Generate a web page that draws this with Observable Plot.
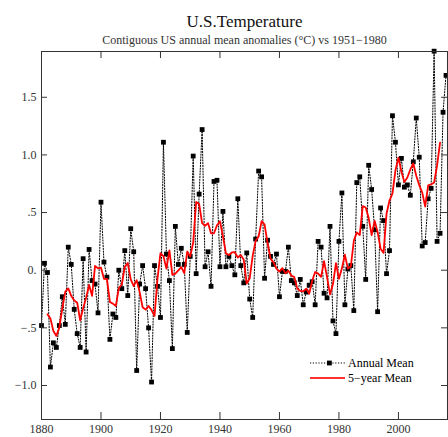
<!DOCTYPE html>
<html><head><meta charset="utf-8">
<script src="https://cdn.jsdelivr.net/npm/d3@7"></script>
<script src="https://cdn.jsdelivr.net/npm/@observablehq/plot@0.6"></script>
<style>
body{margin:0;background:#fff;}
#chart{width:448px;height:437px;}
</style></head><body><div id="chart"></div>
<script>
const title = "U.S.Temperature";
const subtitle = "Contiguous US annual mean anomalies (\u00B0C) vs 1951\u22121980";
const legendLabels = ["Annual Mean", "5\u2212year Mean"];
const years = d3.range(1880, 2017);
const annualMean = [
 -0.48, 0.06,-0.02,-0.84,-0.63,-0.67,-0.48,-0.23,-0.47, 0.20,
  0.05,-0.34,-0.55,-0.67, 0.10,-0.71, 0.18,-0.09,-0.12,-0.37,
  0.59, 0.07,-0.06,-0.60,-0.38,-0.41, 0.00,-0.16, 0.17,-0.22,
  0.36, 0.16,-0.87,-0.12, 0.04,-0.16,-0.50,-0.97, 0.04,-0.14,
 -0.41, 1.11, 0.14,-0.09,-0.68, 0.38, 0.05, 0.19, 0.05,-0.54,
  0.12, 0.99,-0.03, 0.66, 1.22, 0.03, 0.16,-0.14, 0.77, 0.78,
  0.03, 0.51, 0.03, 0.12, 0.04,-0.04, 0.62, 0.04,-0.11, 0.15,
 -0.25,-0.41, 0.27, 0.86, 0.81,-0.07, 0.26, 0.12, 0.05, 0.14,
 -0.23,-0.01,-0.01, 0.20,-0.09,-0.11,-0.22,-0.08,-0.30,-0.19,
 -0.13,-0.10,-0.30, 0.25, 0.20,-0.20,-0.24, 0.38,-0.44,-0.55,
  0.25, 0.67,-0.30, 0.01, 0.04,-0.35, 0.76, 0.81, 0.38,-0.08,
  0.91, 0.70, 0.35,-0.36, 0.54, 0.43,-0.03, 0.17, 1.34, 1.11,
  0.74, 0.97, 0.72, 0.74, 0.65, 0.94, 1.32, 0.98, 0.21, 0.24,
  0.62, 0.71, 1.90, 0.25, 0.32, 1.37, 1.69
];
const xTicks = [1880, 1900, 1920, 1940, 1960, 1980, 2000];
const yTicks = [-1, -0.5, 0, 0.5, 1, 1.5];
const yTickLabels = ["\u22121.0", "\u2212.5", "0.", ".5", "1.0", "1.5"];

const data = years.map((year, i) => ({year, value: annualMean[i]}));
const serif = "'Liberation Serif', 'Times New Roman', serif";
const axisColor = "#333";

const plot = Plot.plot({
  width: 448, height: 437,
  marginLeft: 41, marginRight: 1, marginTop: 51, marginBottom: 18,
  style: {fontFamily: serif, fontSize: "12px", background: "#fff", overflow: "visible"},
  x: {domain: [1880, 2016.5]},
  y: {domain: [-1.295, 1.897]},
  marks: [
    Plot.line(data, {x: "year", y: "value", stroke: "#000", strokeWidth: 1, strokeDasharray: "1.2,1.6"}),
    Plot.dot(data, {x: "year", y: "value", symbol: "square", r: 2.7, fill: "#000", stroke: "none"}),
    Plot.lineY(data, Plot.windowY({k: 5, anchor: "middle", strict: true}, {x: "year", y: "value", stroke: "#ff0000", strokeWidth: 1.8})),
    Plot.frame({stroke: axisColor}),
    Plot.tickY(yTicks, {y: d => d, insetRight: 400, stroke: axisColor}),
    Plot.tickY(yTicks, {y: d => d, insetLeft: 400, stroke: axisColor}),
    Plot.tickX(xTicks, {x: d => d, insetTop: 361, stroke: axisColor}),
    Plot.tickX(xTicks, {x: d => d, insetBottom: 361, stroke: axisColor}),
    Plot.axisX(xTicks, {tickSize: 0, tickPadding: 5, tickFormat: d => `${d}`, label: null, fill: "#333", fontSize: 12}),
    Plot.axisY(yTicks, {tickSize: 0, tickPadding: 5, tickFormat: d => yTickLabels[yTicks.indexOf(d)], label: null, fill: "#333", fontSize: 12}),
    Plot.text([title], {text: d => d, frameAnchor: "top", dy: -37, fontSize: 17, fill: "#111"}),
    Plot.text([subtitle], {text: d => d, frameAnchor: "top", dy: -16, fontSize: 12, fill: "#333"})
  ]
});
document.getElementById("chart").appendChild(plot);

// legend (inside plot, lower right)
const svg = d3.select(plot);
const lg = svg.append("g").attr("font-family", serif).attr("font-size", 12).attr("text-anchor", "start");
lg.append("line").attr("x1", 310).attr("x2", 345).attr("y1", 363).attr("y2", 363)
  .attr("stroke", "#000").attr("stroke-dasharray", "1.2,1.6");
lg.append("rect").attr("x", 327).attr("y", 360.6).attr("width", 4.8).attr("height", 4.8).attr("fill", "#000");
lg.append("text").attr("x", 348).attr("y", 363).attr("dy", "0.35em").attr("text-anchor", "start").text(legendLabels[0]);
lg.append("line").attr("x1", 310).attr("x2", 345).attr("y1", 378).attr("y2", 378)
  .attr("stroke", "#ff3030").attr("stroke-width", 2);
lg.append("text").attr("x", 348).attr("y", 378).attr("dy", "0.35em").attr("text-anchor", "start").text(legendLabels[1]);
</script></body></html>
